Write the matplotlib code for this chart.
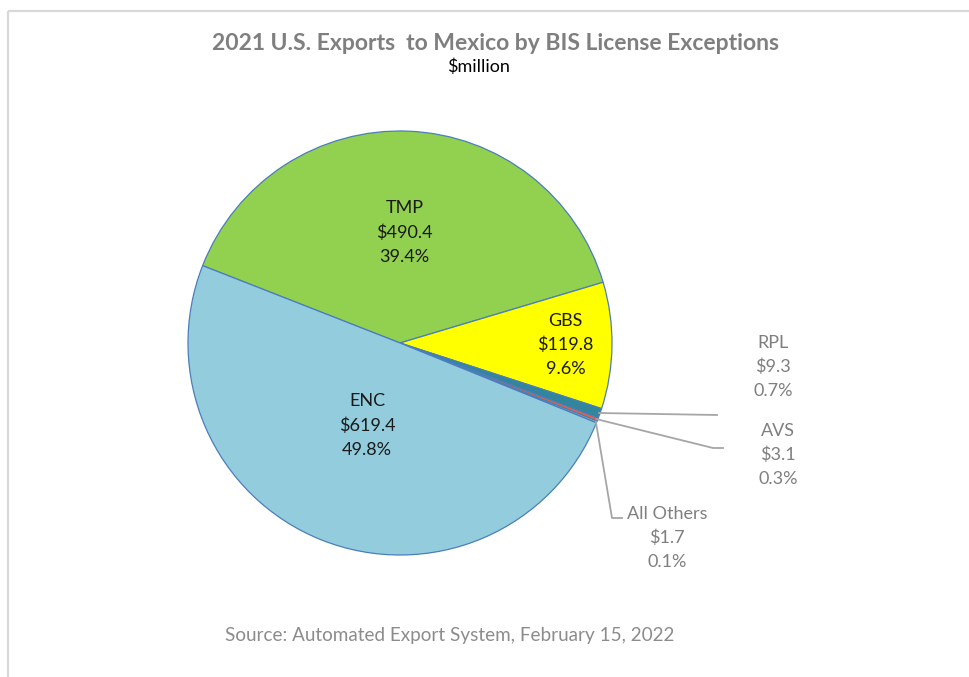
import matplotlib
matplotlib.use("Agg")
import matplotlib.pyplot as plt
import numpy as np

plt.rcParams['font.family'] = ['Lato', 'DejaVu Sans']

categories = ["TMP", "GBS", "RPL", "AVS", "All Others", "ENC"]
values = [490.4, 119.8, 9.3, 3.1, 1.7, 619.4]
percents = [39.4, 9.6, 0.7, 0.3, 0.1, 49.8]
colors = ["#92D050", "#FFFF00", "#31859C", "#E8603C", "#BFBFBF", "#93CDDD"]

W, H = 969, 677
fig = plt.figure(figsize=(W / 100, H / 100), dpi=100)
ax = fig.add_axes([0, 0, 1, 1])

def P(y):
    return H - y

cx, cy, R = 400, P(343), 212
wedges, _ = ax.pie(values, colors=colors, startangle=158.6, counterclock=False,
                   center=(cx, cy), radius=R,
                   wedgeprops=dict(edgecolor="#4A7EBB", linewidth=0.9))
ax.set_xlim(0, W)
ax.set_ylim(0, H)
ax.set_aspect("auto")
ax.axis("off")

# border
ax.plot([8.5, 8.5], [P(10.5), 0], color="#D9D9D9", lw=1.6, solid_capstyle="butt")
ax.plot([8.5, W], [P(10.5), P(10.5)], color="#D9D9D9", lw=1.6, solid_capstyle="butt")

def lab(i):
    return f"{categories[i]}\n\\${values[i]:.1f}\n{percents[i]:.1f}%"

def mid_point(w, r):
    ang = np.deg2rad((w.theta1 + w.theta2) / 2)
    return cx + r * np.cos(ang), cy + r * np.sin(ang)

# inside labels
inside = {0: 0.52, 1: 0.78, 5: 0.42}
for i, frac in inside.items():
    x, y = mid_point(wedges[i], R * frac)
    ax.text(x, y, lab(i), ha="center", va="center", fontsize=13,
            color="#1a1a1a", linespacing=1.62)

# outside labels with leader lines
gray = "#A6A6A6"
outside = {
    2: dict(text=(773, 367), path=[(717, 415)]),
    3: dict(text=(778, 455), path=[(713, 448), (723, 448)]),
    4: dict(text=(667, 538), path=[(612, 518), (622, 518)]),
}
for i, d in outside.items():
    x0, y0 = mid_point(wedges[i], R - 1)
    xs = [x0] + [p[0] for p in d["path"]]
    ys = [y0] + [P(p[1]) for p in d["path"]]
    ax.plot(xs, ys, color=gray, lw=1.3)
    tx, ty = d["text"]
    ax.text(tx, P(ty), lab(i), ha="center", va="center", fontsize=13,
            color="#7F7F7F", linespacing=1.62)

ax.text(496, P(43), "2021 U.S. Exports  to Mexico by BIS License Exceptions",
        ha="center", va="center", fontsize=16.5, fontweight="bold", color="#7F7F7F")
ax.text(479, P(67), "\\$million", ha="center", va="center", fontsize=13, color="#000000")
ax.text(450, P(636), "Source: Automated Export System, February 15, 2022",
        ha="center", va="center", fontsize=13.6, color="#8C8C8C")

fig.savefig("out.png", dpi=100)
